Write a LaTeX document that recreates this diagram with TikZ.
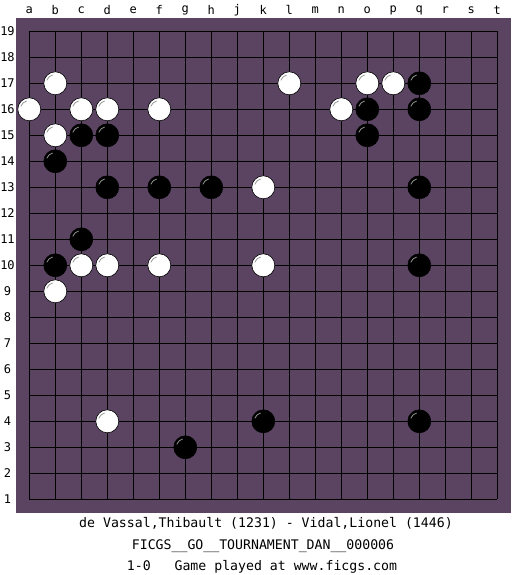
\documentclass[tikz,border=0pt]{standalone}
\usepackage{fontspec}
\newfontfamily\monof{DejaVu Sans Mono}
\definecolor{boardbg}{RGB}{90,68,98}
\definecolor{hlwhite}{RGB}{140,140,140}
\definecolor{hlblack}{RGB}{150,150,150}
\begin{document}
\begin{tikzpicture}[x=1pt,y=-1pt,
  wstone/.style={circle,fill=white,draw=black,line width=0.6pt,minimum size=23pt,inner sep=0pt},
  bstone/.style={circle,fill=black,draw=black,line width=0.6pt,minimum size=23pt,inner sep=0pt},
  coordlab/.style={font=\monof\fontsize{12}{14}\selectfont,inner sep=0pt},
  caption/.style={font=\monof\fontsize{13.2}{15}\selectfont,inner sep=0pt}]
\useasboundingbox (0,0) rectangle (525,575);
\fill[white] (0,0) rectangle (525,575);
\fill[boardbg] (16,18) rectangle (511,513);
% grid
\foreach \i in {0,...,18} {
  \draw[black,line width=1pt] (29.3+26*\i,31.3) -- (29.3+26*\i,499.3);
  \draw[black,line width=1pt] (29.3,31.3+26*\i) -- (497.3,31.3+26*\i);
}
% column labels
\foreach \l [count=\i from 0] in {a,b,c,d,e,f,g,h,j,k,l,m,n,o,p,q,r,s,t}
  \node[coordlab] (col-\l) at (29.3+26*\i,10) {\l};
% row labels
\foreach \r in {1,...,19}
  \node[coordlab] (row-\r) at (7.5,31.3+26*19-26*\r) {\r};
% stones: column index, row, colour
\foreach \c/\r/\s in {
  1/17/w,10/17/w,13/17/w,14/17/w,15/17/b,
  0/16/w,2/16/w,3/16/w,5/16/w,12/16/w,13/16/b,15/16/b,
  1/15/w,2/15/b,3/15/b,13/15/b,
  1/14/b,
  3/13/b,5/13/b,7/13/b,9/13/w,15/13/b,
  2/11/b,
  1/10/b,2/10/w,3/10/w,5/10/w,9/10/w,15/10/b,
  1/9/w,
  3/4/w,9/4/b,15/4/b,
  6/3/b} {
  \node[\s stone] (st-\c-\r) at (29.3+26*\c,31.3+26*19-26*\r) {};
  \draw[line width=0.8pt,hl\ifx\s w white\else black\fi]
    ([shift={(-8.5,-3)}]st-\c-\r.center) arc[start angle=200,end angle=255,radius=8.5];
}
% captions
\node[caption] (t1) at (266,523) {de Vassal,Thibault (1231) - Vidal,Lionel (1446)};
\node[caption] (t2) at (263,546) {FICGS\_\_GO\_\_TOURNAMENT\_DAN\_\_000006};
\node[caption] (t3) at (262,567) {1-0~~~Game played at www.ficgs.com};
\end{tikzpicture}
\end{document}
